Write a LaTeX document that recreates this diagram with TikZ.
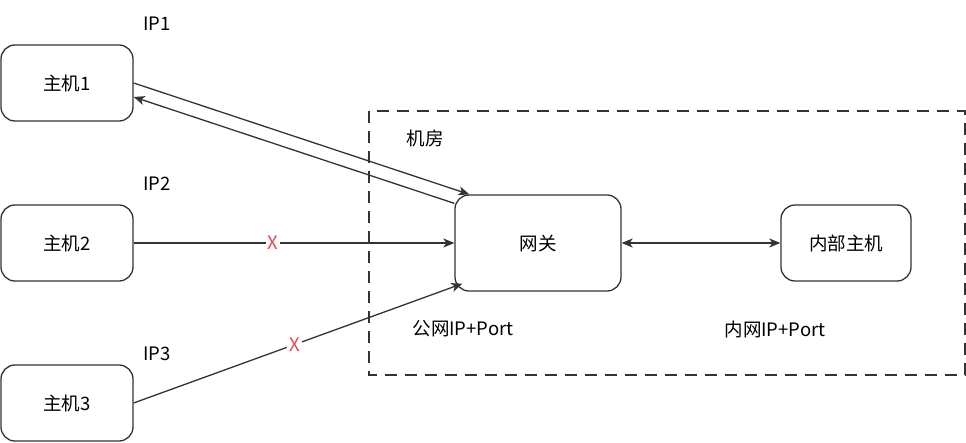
\documentclass[tikz,border=0pt]{standalone}
\usepackage{fontspec}
\setmainfont{Noto Sans CJK SC}
\usetikzlibrary{arrows.meta}
\definecolor{ink}{HTML}{333333}
\definecolor{xred}{HTML}{E5484D}
\tikzset{
  box/.style={draw=ink,line width=1.3pt,rounded corners=14pt,align=center,inner sep=0pt},
  lbl/.style={text=black,font=\fontsize{18.5}{22}\selectfont},
  link/.style={draw=ink,line width=1.3pt,-{Stealth[length=11pt,width=9pt,inset=3pt]}},
  cross/.style={fill=white,text=xred,inner sep=2pt,font=\fontsize{18.5}{22}\selectfont}
}
\begin{document}
\begin{tikzpicture}[x=1pt,y=-1pt]
\useasboundingbox (0,0) rectangle (966,442);
\draw[ink,line width=1.3pt,dash pattern=on 12pt off 8pt] (369,111) rectangle (965,375);
\node[box,lbl,minimum width=132pt,minimum height=76pt] (h1) at (67,83) {主机1};
\node[box,lbl,minimum width=132pt,minimum height=76pt] (h2) at (67,243) {主机2};
\node[box,lbl,minimum width=132pt,minimum height=76pt] (h3) at (67,403) {主机3};
\node[box,lbl,minimum width=166pt,minimum height=96pt] (gw) at (538,243) {网关};
\node[box,lbl,minimum width=130pt,minimum height=76pt] (inner) at (846,243) {内部主机};
\node[lbl] (ip1) at (157,24) {IP1};
\node[lbl] (ip2) at (157,184) {IP2};
\node[lbl] (ip3) at (157,354) {IP3};
\node[lbl] (room) at (425,138) {机房};
\node[lbl] (pub) at (463,329) {公网IP+Port};
\node[lbl] (priv) at (775,329) {内网IP+Port};
% host links
\draw[link] (h1.east) -- ([xshift=15pt]gw.north west);
\draw[link] ([yshift=-9pt]gw.west |- gw.north) -- ([yshift=-14pt]h1.east);
\draw[link] (h2.east) -- node[cross,pos=.435] (x2) {X} (gw.west);
\draw[link] (h3.east) -- node[cross,pos=.49] (x3) {X} ([xshift=8pt,yshift=8pt]gw.south west);
\draw[link,{Stealth[length=11pt,width=9pt,inset=3pt]}-{Stealth[length=11pt,width=9pt,inset=3pt]}] (gw.east) -- (inner.west);
\end{tikzpicture}
\end{document}
